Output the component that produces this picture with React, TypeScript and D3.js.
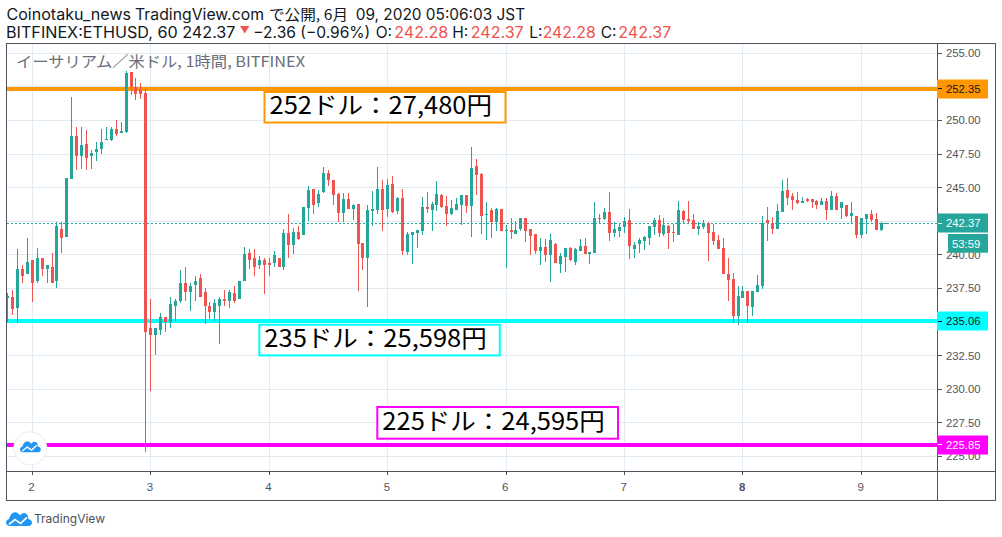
import * as d3 from 'd3';

const firstHour = -5;
const opens = [
  236.78,236.90,236.08,238.91,238.54,239.58,238.02,239.80,238.91,239.13,
  238.02,241.96,241.36,245.67,248.87,247.38,248.28,247.38,247.68,247.90,
  248.57,248.57,249.39,249.09,249.17,253.63,252.51,252.29,252.07,234.52,
  234.00,234.37,235.34,234.97,236.23,236.53,237.94,237.20,237.72,238.24,
  237.27,236.16,235.71,236.16,236.75,236.53,237.13,236.68,238.02,240.17,
  239.80,239.21,239.58,239.36,239.36,239.80,239.06,241.66,240.77,241.73,
  241.51,243.52,244.93,243.89,244.70,246.11,245.59,244.55,243.14,244.18,
  243.44,243.81,240.91,239.79,243.29,243.36,244.92,243.44,245.30,243.29,
  244.25,240.24,241.50,241.65,241.80,243.59,243.36,243.73,244.48,243.66,
  243.07,243.36,243.73,244.48,243.66,246.63,246.04,242.99,243.36,242.47,
  243.44,241.80,241.88,241.58,241.95,242.77,241.95,241.58,240.31,240.61,
  240.02,240.84,239.35,239.87,240.54,239.50,240.31,240.69,240.09,240.17,
  242.77,242.69,243.21,241.65,241.80,242.10,242.62,240.46,240.84,241.06,
  241.28,242.10,242.62,241.58,242.17,241.73,241.50,243.29,242.69,242.62,
  241.95,242.10,242.40,241.73,241.13,240.54,238.61,238.23,235.48,236.82,
  237.34,236.15,237.27,237.71,242.62,242.40,241.95,243.21,244.85,244.40,
  244.11,243.88,244.18,244.18,244.03,243.73,244.03,243.36,244.40,243.51,
  243.73,242.92,242.92,241.50,242.69,243.07,242.69,241.88,242.28,
];
const highs = [
  237.13,237.35,240.47,239.28,241.29,239.58,240.54,239.80,239.21,240.17,
  242.48,242.48,245.75,251.77,249.54,249.54,249.32,247.83,248.42,249.39,
  249.54,249.54,250.06,249.91,253.70,253.63,253.18,252.81,252.44,236.75,
  234.52,235.64,235.34,236.90,236.75,238.84,239.13,237.94,238.39,238.54,
  237.50,236.46,236.75,236.83,237.35,237.35,237.65,238.09,240.62,240.47,
  240.47,239.95,239.80,239.80,240.32,239.80,241.96,243.07,242.03,242.11,
  243.59,245.15,244.93,244.86,246.56,246.34,245.59,244.63,244.63,244.63,
  243.81,243.81,240.91,243.73,244.78,246.56,245.59,245.67,245.89,244.33,
  244.92,241.73,241.73,241.88,244.33,244.70,243.96,245.52,244.55,244.40,
  244.11,244.25,244.48,244.48,248.05,247.15,246.11,243.96,243.51,243.51,
  243.44,242.25,242.77,242.55,242.77,242.77,241.95,241.58,241.28,241.21,
  241.58,240.91,240.17,240.54,240.61,240.54,241.21,241.28,240.24,243.96,
  243.07,243.51,244.70,242.47,242.32,242.84,243.44,240.98,241.28,241.43,
  242.17,242.77,242.99,242.77,242.25,242.32,244.03,243.36,244.03,243.07,
  242.47,242.62,242.47,242.32,241.50,241.28,239.79,238.68,237.71,237.71,
  237.34,237.34,238.53,242.92,243.59,242.84,243.81,245.59,245.74,244.63,
  244.70,244.33,244.26,244.18,244.11,244.26,244.26,244.78,244.63,243.96,
  243.73,243.96,242.92,242.77,243.07,243.36,243.14,242.47,242.37,
];
const lows = [
  234.99,235.49,234.90,237.87,238.54,236.46,237.94,238.39,237.94,237.87,
  237.50,240.17,241.36,245.67,246.34,246.42,246.34,246.42,247.01,247.53,
  248.57,248.50,248.87,249.09,249.09,251.92,251.55,251.62,225.32,229.86,
  232.52,234.03,234.23,234.52,235.04,236.38,236.53,235.79,236.53,236.83,
  234.82,235.19,235.04,233.33,236.23,236.08,236.38,236.68,238.02,238.91,
  238.39,238.91,237.05,238.46,239.13,239.06,238.84,239.73,240.10,241.07,
  241.51,242.55,243.07,243.59,244.63,245.15,243.73,242.47,242.47,243.44,
  242.62,237.34,238.90,236.15,242.17,243.07,241.80,242.84,243.14,243.07,
  240.02,240.02,239.35,240.54,241.50,243.14,241.80,243.29,243.51,242.17,
  242.99,243.36,242.25,243.14,241.36,244.48,241.58,241.13,241.28,241.80,
  241.80,239.05,241.21,241.58,241.80,240.98,240.02,240.09,239.27,239.50,
  238.01,239.42,238.68,238.75,239.57,239.27,240.31,240.09,239.35,240.17,
  242.32,242.62,241.06,241.36,241.36,241.65,239.72,239.79,240.17,240.39,
  240.76,241.50,241.36,241.43,240.46,240.98,241.50,242.40,242.40,241.95,
  241.50,241.95,239.57,240.76,240.46,238.61,236.60,234.96,234.81,236.82,
  234.96,235.48,237.27,237.49,241.06,241.58,241.95,243.21,243.73,243.36,
  243.81,243.88,243.96,243.51,243.44,243.73,242.62,243.36,243.36,242.69,
  242.84,242.32,241.28,241.28,241.58,242.47,241.88,241.80,242.28,
];
const closes = [
  236.93,235.94,238.91,238.46,239.50,237.94,239.80,238.98,239.21,237.87,
  242.11,241.29,245.75,248.87,247.38,248.20,247.23,247.61,247.90,248.42,
  248.65,249.39,249.02,249.22,253.55,252.51,251.99,251.99,234.25,234.00,
  234.52,235.34,234.97,236.31,236.60,237.87,237.20,237.65,238.09,236.90,
  236.16,235.71,236.38,236.75,236.60,237.20,236.60,238.09,240.10,239.65,
  239.13,239.58,239.28,239.21,240.02,239.06,241.66,240.77,241.73,241.21,
  243.59,244.86,243.74,244.56,246.11,245.59,244.48,243.14,244.18,243.44,
  243.73,240.84,239.79,243.36,243.44,244.92,243.36,245.22,243.21,244.25,
  240.31,241.58,241.73,241.88,243.59,243.44,243.81,244.55,243.59,243.07,
  243.51,243.81,244.48,243.66,246.49,245.96,242.92,243.07,242.47,243.44,
  241.80,241.88,241.73,241.88,242.77,241.80,241.43,240.31,240.61,240.02,
  241.13,239.42,239.94,240.54,239.65,240.46,240.69,240.09,240.24,242.77,
  242.69,243.21,241.65,241.95,242.10,242.55,240.69,240.76,241.13,241.36,
  242.17,242.62,241.65,242.25,241.65,241.65,243.36,242.62,242.55,241.95,
  242.17,242.40,241.65,241.06,240.46,238.61,238.16,235.48,236.97,237.34,
  236.23,237.34,237.79,242.40,242.40,241.95,243.29,244.78,244.26,244.11,
  243.88,244.03,244.03,243.96,243.73,244.03,243.36,244.40,243.36,243.96,
  242.92,243.14,241.50,242.77,243.07,242.62,241.88,242.40,242.37,
];

const dayLabels = ['2', '3', '4', '5', '6', '7', '8', '9'];
const dayHours = [0, 24, 48, 72, 96, 120, 144, 168];
const boldDay = '8';
const priceTicks = [255, 252.5, 250, 247.5, 245, 242.5, 240, 237.5, 235, 232.5, 230, 227.5, 225];
const levelPrices = [252.35, 235.06, 225.85];
const levelColors = ['#ff9800', '#00ffff', '#ff00ff'];
const levelTextColors = ['#131722', '#131722', '#ffffff'];
const lastPrice = 242.37;
const countdown = '53:59';

const UP = '#26a69a';
const DOWN = '#ef5350';
const GRID = '#e1ecf2';
const BORDER = '#50535e';
const UI_FONT = "Inter, sans-serif";
const AXIS_FONT = "'Liberation Sans', Arial, sans-serif";
const JP_FONT = "'Noto Sans CJK JP', sans-serif";

const width = 1002;
const height = 537;
const plot = { left: 6.5, right: 937.5, top: 43.5, bottom: 471.5, outerRight: 995.5, outerBottom: 500.5 };

const xScale = d3.scaleLinear().domain([0, 168]).range([32.3, 861.4]);
const yScale = d3.scaleLinear().domain([225, 255]).range([456.4, 53.3]);

const snap = (v: number) => Math.round(v - 0.5) + 0.5;

const candles = opens.map((o, i) => ({
  hour: firstHour + i,
  open: o,
  high: highs[i],
  low: lows[i],
  close: closes[i],
}));

const CLOUD =
  'M3.5 14C1.2 14 0 12.4 0 10.6 0 8.7 1.4 7.4 3 7 3.9 3.2 6.3 0.2 9 0.2 11.3 0.2 13 1.8 14 3.5 15.3 1.7 16.9 0.7 18.5 1 21.1 1.4 22.5 4 22.3 7 24.6 7.3 26 8.9 26 10.8 26 12.7 24.5 14 22.5 14Z';

function Logo({ x, y, s }: { x: number; y: number; s: number }) {
  return (
    <g transform={`translate(${x},${y}) scale(${s})`}>
      <path d={CLOUD} fill='#2196f3' />
      <path d='M3 12.4L9 7.6 14.6 11.4 21 5.4' fill='none' stroke='#ffffff' strokeWidth={1.7} />
    </g>
  );
}

function NoteBox({ x, y, w, h, color, label }: { x: number; y: number; w: number; h: number; color: string; label: string }) {
  return (
    <g>
      <rect x={x} y={y} width={w} height={h} fill='#ffffff' stroke={color} strokeWidth={2} />
      <text x={x + 5} y={y + h - 8.5} fontFamily={JP_FONT} fontSize={24} fill='#000000' textLength={222.5} lengthAdjust='spacingAndGlyphs'>
        {label}
      </text>
    </g>
  );
}

export default function App() {
  return (
    <svg
      width={width}
      height={height}
      viewBox={`0 0 ${width} ${height}`}
      style={{ position: 'absolute', left: 0, top: 0, background: '#ffffff' }}
    >
      <defs>
        <clipPath id='plot-clip'>
          <rect x={plot.left + 0.5} y={plot.top + 0.5} width={plot.right - plot.left - 1} height={plot.bottom - plot.top - 1} />
        </clipPath>
      </defs>

      {/* Header */}
      <g fontFamily={UI_FONT} fontSize={15.5} fill='#131722'>
        <text x={6.5} y={20} textLength={124.5} lengthAdjust='spacingAndGlyphs'>Coinotaku_news</text>
        <text x={135} y={20} textLength={129} lengthAdjust='spacingAndGlyphs'>TradingView.com</text>
        <text x={269} y={20} fontFamily={JP_FONT} fontSize={14.5} textLength={79} lengthAdjust='spacingAndGlyphs'>で公開, 6月</text>
        <text x={355.7} y={20} textLength={169.5} lengthAdjust='spacingAndGlyphs'>09, 2020 05:06:03 JST</text>
        <text x={6} y={37.5} textLength={229.5} lengthAdjust='spacingAndGlyphs'>BITFINEX:ETHUSD, 60 242.37</text>
        <path d='M240 26H249.4L244.7 33.4Z' fill={DOWN} />
        <text x={253.3} y={37.5} textLength={117} lengthAdjust='spacingAndGlyphs'>−2.36 (−0.96%)</text>
        <text x={375.7} y={37.5}>O:</text>
        <text x={394.3} y={37.5} fill={DOWN} textLength={54} lengthAdjust='spacingAndGlyphs'>242.28</text>
        <text x={452.3} y={37.5}>H:</text>
        <text x={470.7} y={37.5} fill={DOWN} textLength={53} lengthAdjust='spacingAndGlyphs'>242.37</text>
        <text x={529.3} y={37.5}>L:</text>
        <text x={542.7} y={37.5} fill={DOWN} textLength={53} lengthAdjust='spacingAndGlyphs'>242.28</text>
        <text x={600.7} y={37.5}>C:</text>
        <text x={618.3} y={37.5} fill={DOWN} textLength={53} lengthAdjust='spacingAndGlyphs'>242.37</text>
      </g>

      {/* Grid */}
      <g shapeRendering='crispEdges' stroke={GRID}>
        {priceTicks.map((t) => (
          <line key={t} x1={plot.left} x2={plot.right} y1={snap(yScale(t))} y2={snap(yScale(t))} />
        ))}
        {dayHours.map((h) => (
          <line key={h} x1={snap(xScale(h))} x2={snap(xScale(h))} y1={plot.top} y2={plot.bottom} />
        ))}
      </g>

      <text x={16} y={67} fontFamily={JP_FONT} fontSize={15} fill='#6b6e79' textLength={289} lengthAdjust='spacingAndGlyphs'>
        イーサリアム／米ドル, 1時間, BITFINEX
      </text>

      <g clipPath='url(#plot-clip)'>
        {/* Last price line */}
        <line
          x1={plot.left}
          x2={plot.right}
          y1={snap(yScale(lastPrice))}
          y2={snap(yScale(lastPrice))}
          stroke={UP}
          strokeDasharray='2 2'
          shapeRendering='crispEdges'
        />

        {/* Horizontal level lines */}
        {levelPrices.map((p, i) => (
          <rect key={p} x={plot.left} width={plot.right - plot.left} y={Math.round(yScale(p)) - 2} height={4} fill={levelColors[i]} />
        ))}

        {/* Candles */}
        <g shapeRendering='crispEdges'>
          {candles.map((c) => {
            const col = Math.floor(xScale(c.hour));
            const color = c.close >= c.open ? UP : DOWN;
            const top = yScale(Math.max(c.open, c.close));
            const bottom = yScale(Math.min(c.open, c.close));
            return (
              <g key={c.hour} fill={color}>
                <rect x={col} width={1} y={yScale(c.high)} height={yScale(c.low) - yScale(c.high)} />
                <rect x={col - 1} width={3} y={top} height={Math.max(bottom - top, 1)} />
              </g>
            );
          })}
        </g>
      </g>

      {/* Text notes */}
      <NoteBox x={264.5} y={92} w={241} h={30.5} color={levelColors[0]} label='252ドル：27,480円' />
      <NoteBox x={259.3} y={324.7} w={240.5} h={30.7} color={levelColors[1]} label='235ドル：25,598円' />
      <NoteBox x={377.3} y={407} w={240.7} h={31.7} color={levelColors[2]} label='225ドル：24,595円' />

      {/* Floating logo */}
      <circle cx={30.3} cy={448.3} r={16.5} fill='#ffffff' stroke='#ececec' strokeWidth={1} />
      <Logo x={20} y={441} s={0.8} />

      {/* Frame */}
      <g fill='none' stroke={BORDER} strokeWidth={1} shapeRendering='crispEdges'>
        <rect x={plot.left} y={plot.top} width={plot.outerRight - plot.left} height={plot.outerBottom - plot.top} />
        <line x1={plot.right} x2={plot.right} y1={plot.top} y2={plot.outerBottom} />
        <line x1={plot.left} x2={plot.outerRight} y1={plot.bottom} y2={plot.bottom} />
      </g>

      {/* X axis */}
      {dayHours.map((h, i) => (
        <g key={h}>
          <line x1={snap(xScale(h))} x2={snap(xScale(h))} y1={plot.bottom} y2={plot.bottom + 3} stroke={BORDER} shapeRendering='crispEdges' />
          <text
            x={xScale(h) - 0.8}
            y={490.5}
            textAnchor='middle'
            fontFamily={AXIS_FONT}
            fontSize={11.5}
            fontWeight={dayLabels[i] === boldDay ? 700 : 400}
            fill={BORDER}
          >
            {dayLabels[i]}
          </text>
        </g>
      ))}

      {/* Y axis */}
      {priceTicks.map((t) => (
        <g key={t}>
          <line x1={plot.right} x2={plot.right + 4} y1={snap(yScale(t))} y2={snap(yScale(t))} stroke={BORDER} shapeRendering='crispEdges' />
          <text x={946} y={yScale(t) + 4} fontFamily={AXIS_FONT} fontSize={11.3} fill={BORDER}>
            {d3.format('.2f')(t)}
          </text>
        </g>
      ))}

      {/* Level tags */}
      {levelPrices.map((p, i) => (
        <g key={p}>
          <rect x={937} y={Math.round(yScale(p)) - 9.5} width={51} height={19} fill={levelColors[i]} />
          <line x1={plot.right} x2={plot.right + 4} y1={snap(yScale(p))} y2={snap(yScale(p))} stroke={levelTextColors[i]} shapeRendering='crispEdges' />
          <text x={946} y={yScale(p) + 4} fontFamily={AXIS_FONT} fontSize={11.3} fill={levelTextColors[i]}>
            {d3.format('.2f')(p)}
          </text>
        </g>
      ))}

      {/* Last price tag and countdown */}
      <rect x={937} y={Math.round(yScale(lastPrice)) - 9.5} width={51} height={19} fill={UP} />
      <line x1={plot.right} x2={plot.right + 4} y1={snap(yScale(lastPrice))} y2={snap(yScale(lastPrice))} stroke='#ffffff' shapeRendering='crispEdges' />
      <text x={946} y={yScale(lastPrice) + 4} fontFamily={AXIS_FONT} fontSize={11.3} fill='#ffffff'>
        {d3.format('.2f')(lastPrice)}
      </text>
      <rect x={948} y={234} width={40} height={18.7} fill={UP} />
      <text x={952} y={247.5} fontFamily={AXIS_FONT} fontSize={11.3} fill='#ffffff'>
        {countdown}
      </text>

      {/* Footer */}
      <Logo x={6} y={512} s={1} />
      <text x={34} y={523} fontFamily={UI_FONT} fontSize={12} fill='#4c525e' textLength={71} lengthAdjust='spacingAndGlyphs'>
        TradingView
      </text>
    </svg>
  );
}
